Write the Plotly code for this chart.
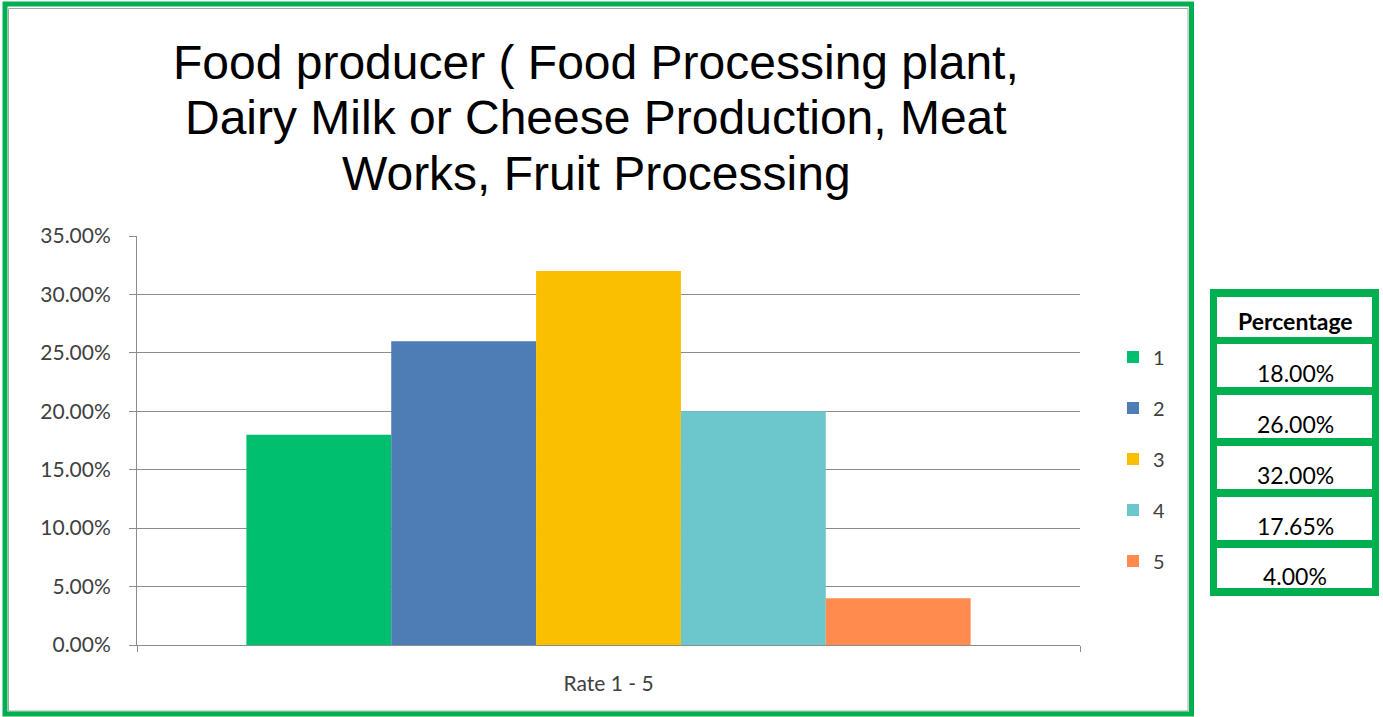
import plotly.graph_objects as go

# Survey results: share of respondents per rating
categories = ["Rate 1 - 5"]
ratings = ["1", "2", "3", "4", "5"]
shares = [0.18, 0.26, 0.32, 0.20, 0.04]
table_header = "Percentage"
table_values = ["18.00%", "26.00%", "32.00%", "17.65%", "4.00%"]

title_lines = [
    "Food producer ( Food Processing plant,",
    "Dairy Milk or Cheese Production, Meat",
    "Works, Fruit Processing",
]

W, H = 1383, 717
colors = ["#00BF6F", "#4E7DB5", "#F9BF00", "#6CC7CC", "#FF8B4F"]
GREEN = "#00B050"
GRID = "#8C8C8C"
TEXT = "#404040"


def px(x):
    return x / W


def py(y):
    return 1 - y / H


fig = go.Figure()
for i, (name, val) in enumerate(zip(ratings, shares)):
    fig.add_trace(go.Bar(
        x=categories, y=[val], name=name, legendgroup=name,
        marker=dict(color=colors[i], line=dict(width=0)),
        hoverinfo="y+name",
    ))

shapes = []
# outer green frame and thin inner grey border
shapes.append(dict(type="rect", xref="paper", yref="paper",
                   x0=px(5), x1=px(1191.5), y0=py(4), y1=py(714),
                   line=dict(color=GREEN, width=5), layer="above"))
shapes.append(dict(type="rect", xref="paper", yref="paper",
                   x0=px(8.5), x1=px(1188), y0=py(8.5), y1=py(711),
                   line=dict(color="#A6A6A6", width=1), layer="below"))

# side table: green block with white cells
shapes.append(dict(type="rect", xref="paper", yref="paper",
                   x0=px(1210), x1=px(1379), y0=py(289), y1=py(596),
                   fillcolor=GREEN, line=dict(width=0)))
cells = [(297, 337), (344, 387), (395, 438), (446, 489), (497, 540), (548, 588)]
for y0, y1 in cells:
    shapes.append(dict(type="rect", xref="paper", yref="paper",
                       x0=px(1217), x1=px(1372), y0=py(y0), y1=py(y1),
                       fillcolor="white", line=dict(width=0)))

annotations = []
# chart title
for k, line in enumerate(title_lines):
    annotations.append(dict(text=line, xref="paper", yref="paper",
                            x=px(596), y=py(63 + 55 * k), xanchor="center", yanchor="middle",
                            showarrow=False,
                            font=dict(family="Liberation Sans, Arial", size=48, color="#000000")))
# table text
annotations.append(dict(text="<b>%s</b>" % table_header, xref="paper", yref="paper",
                        x=px(1295), y=py(321), xanchor="center", yanchor="middle",
                        showarrow=False, font=dict(family="Lato", size=23, color="#000000")))
row_y = [373, 424, 475, 526, 576]
for txt, yy in zip(table_values, row_y):
    annotations.append(dict(text=txt, xref="paper", yref="paper",
                            x=px(1295), y=py(yy), xanchor="center", yanchor="middle",
                            showarrow=False, font=dict(family="Lato", size=23, color="#000000")))

fig.update_layout(
    width=W, height=H,
    margin=dict(l=0, r=0, t=0, b=0, autoexpand=False),
    paper_bgcolor="white", plot_bgcolor="white",
    barmode="group", bargap=0.232, bargroupgap=0,
    shapes=shapes, annotations=annotations,
    showlegend=True,
    legend=dict(x=px(1113), y=py(459), xanchor="left", yanchor="middle",
                traceorder="grouped", tracegroupgap=22,
                font=dict(family="Lato", size=20, color=TEXT),
                bgcolor="rgba(0,0,0,0)", itemwidth=30),
    xaxis=dict(domain=[px(137), px(1080)], type="category", automargin=False,
               showline=True, linecolor=GRID, linewidth=1,
               ticks="outside", tickson="boundaries", ticklen=6, tickcolor=GRID,
               ticklabelstandoff=20,
               tickfont=dict(family="Lato", size=21, color=TEXT),
               showgrid=False, fixedrange=True),
    yaxis=dict(domain=[py(645), py(236)], range=[0, 0.35], dtick=0.05, automargin=False,
               tickformat=".2%", showgrid=True, gridcolor=GRID, gridwidth=1,
               showline=True, linecolor=GRID, linewidth=1,
               ticks="outside", ticklen=7, tickcolor=GRID,
               ticklabelstandoff=14,
               tickfont=dict(family="Lato", size=21, color=TEXT),
               zeroline=False, fixedrange=True),
)

fig.write_html("out.html")
